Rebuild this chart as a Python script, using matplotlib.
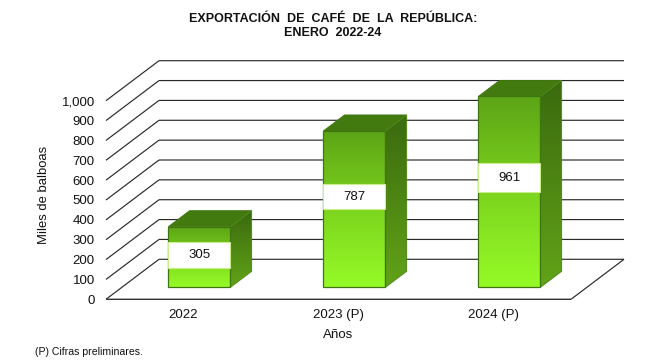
import numpy as np
import matplotlib
matplotlib.use("Agg")
import matplotlib.pyplot as plt
from matplotlib.colors import LinearSegmentedColormap
from matplotlib.patches import Polygon, Rectangle

# Data
categories = ["2022", "2023 (P)", "2024 (P)"]
values = [305, 787, 961]
y_ticks = [0, 100, 200, 300, 400, 500, 600, 700, 800, 900, 1000]
y_tick_labels = ["0", "100", "200", "300", "400", "500", "600", "700", "800", "900", "1,000"]
title = "EXPORTACIÓN  DE  CAFÉ  DE  LA  REPÚBLICA:\nENERO  2022-24"
x_label = "Años"
y_label = "Miles de balboas"
footnote = "(P) Cifras preliminares."

# Layout / style (oblique projection in data units)
W, H = 666, 360
LEFT, RIGHT, FLOOR, TOP = 106.0, 571.0, 299.3, 100.7
DEPTH_X = 53 / 155
DEPTH_Y = 1000 * 40 / (FLOOR - TOP)
BAR_W = 0.40
D_FRONT, D_BACK = 0.30, 0.70
label_center = [0.53, 0.58, 0.575]
label_height = [130, 128, 148]

plt.rcParams["font.family"] = ["Liberation Sans", "DejaVu Sans"]
fig = plt.figure(figsize=(W / 100, H / 100), dpi=100, facecolor="white")
ax = fig.add_axes([LEFT / W, (H - FLOOR) / H, (RIGHT - LEFT) / W, (FLOOR - TOP) / H])
XMIN, XMAX = -0.5, 2.5
YMIN, YMAX = 0, 1000


def proj(x, v, d=0.0):
    return (x + d * DEPTH_X, v + d * DEPTH_Y)


def line(a, b, color="#2a2a2a", lw=0.85, z=1):
    ax.plot([a[0], b[0]], [a[1], b[1]], color=color, lw=lw, clip_on=False,
            zorder=z, snap=False, solid_capstyle="butt")


# Wall grid and floor
for v in y_ticks:
    line(proj(XMIN, v), proj(XMIN, v, 1))
    line(proj(XMIN, v, 1), proj(XMAX, v, 1))
line(proj(XMIN, 0), proj(XMAX, 0), color="#333333", lw=1.0)
line(proj(XMAX, 0), proj(XMAX, 0, 1))

front_cmap = LinearSegmentedColormap.from_list("f", ["#5ca416", "#7cd41e", "#95fb27"])
side_cmap = LinearSegmentedColormap.from_list("s", ["#3a6a0e", "#62a318"])
grad = np.linspace(0, 1, 256).reshape(-1, 1)


def gradient_poly(pts, cmap, v_top, v_bot, xs, z):
    poly = Polygon(pts, closed=True, transform=ax.transData)
    im = ax.imshow(grad, cmap=cmap, aspect="auto", origin="upper",
                   extent=(min(xs), max(xs), v_bot, v_top), zorder=z,
                   interpolation="bilinear")
    im.set_clip_path(poly)
    im.set_clip_box(fig.bbox)


EDGE = "#3f7610"
for i, (cat, val) in enumerate(zip(categories, values)):
    x0, x1 = i - BAR_W / 2, i + BAR_W / 2
    fbl, fbr = proj(x0, 0, D_FRONT), proj(x1, 0, D_FRONT)
    ftl, ftr = proj(x0, val, D_FRONT), proj(x1, val, D_FRONT)
    bbr = proj(x1, 0, D_BACK)
    btl, btr = proj(x0, val, D_BACK), proj(x1, val, D_BACK)

    # front face
    gradient_poly([fbl, fbr, ftr, ftl], front_cmap, val + D_FRONT * DEPTH_Y,
                  D_FRONT * DEPTH_Y, [fbl[0], fbr[0]], 3)
    # side face
    gradient_poly([fbr, bbr, btr, ftr], side_cmap, val + D_BACK * DEPTH_Y,
                  D_FRONT * DEPTH_Y, [fbr[0], bbr[0]], 3)
    # top face
    ax.add_patch(Polygon([ftl, ftr, btr, btl], closed=True, facecolor="#437a10",
                         edgecolor="#3f7610", lw=0.7, clip_on=False, zorder=4))
    # outlines
    ax.add_patch(Polygon([fbl, fbr, ftr, ftl], closed=True, fill=False,
                         edgecolor=EDGE, lw=0.9, clip_on=False, zorder=5))
    ax.add_patch(Polygon([fbr, bbr, btr, ftr], closed=True, fill=False,
                         edgecolor="#4f8a18", lw=0.7, clip_on=False, zorder=4.5))
    # value label
    lh = label_height[i]
    cx, cy = proj(i, val * label_center[i], D_FRONT)
    ax.add_patch(Rectangle((cx - BAR_W / 2, cy - lh / 2), BAR_W, lh, facecolor="white",
                           edgecolor="#c9f08a", lw=0.8, clip_on=False, zorder=6))
    ax.text(cx, cy, str(val), ha="center", va="center", fontsize=9.5,
            color="#111111", zorder=7, clip_on=False)

ax.set_xlim(XMIN, XMAX)
ax.set_ylim(YMIN, YMAX)
ax.set_xticks(range(len(categories)), categories)
ax.set_yticks(y_ticks, y_tick_labels)
ax.tick_params(axis="both", length=0, labelsize=9.5, labelcolor="#111111")
ax.tick_params(axis="x", pad=7.2)
ax.tick_params(axis="y", pad=8)
ax.patch.set_visible(False)
for s in ax.spines.values():
    s.set_visible(False)

ax.set_xlabel(x_label, fontsize=9.5, color="#111111", va="center")
ax.xaxis.set_label_coords(0.5, (FLOOR - 335) / (FLOOR - TOP))
ax.set_ylabel(y_label, fontsize=9.4, color="#111111", va="center")
ax.yaxis.set_label_coords((43.5 - LEFT) / (RIGHT - LEFT), (FLOOR - 195) / (FLOOR - TOP))

fig.text(333 / W, 1 - 26 / H, title, ha="center", va="center", fontsize=9.0,
         fontweight="bold", color="#111111", linespacing=1.22)
fig.text(35 / W, 1 - 352 / H, footnote, ha="left", va="center", fontsize=7.6,
         color="#111111")

fig.savefig("out.png", dpi=100, facecolor="white")
